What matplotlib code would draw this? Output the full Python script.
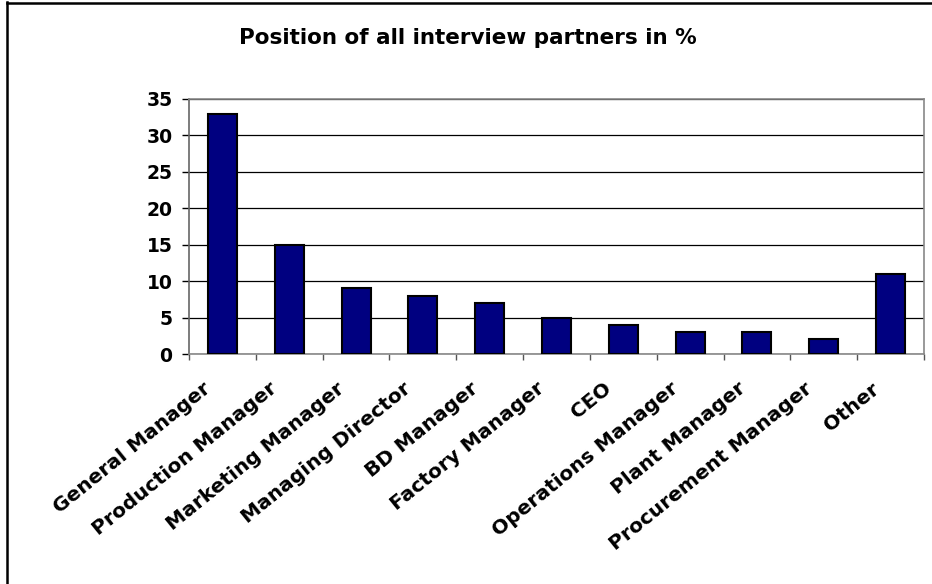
import matplotlib.pyplot as plt
from matplotlib.lines import Line2D
from matplotlib.transforms import ScaledTranslation

positions = ["General Manager", "Production Manager", "Marketing Manager",
             "Managing Director", "BD Manager", "Factory Manager", "CEO",
             "Operations Manager", "Plant Manager", "Procurement Manager",
             "Other"]
shares = [33, 15, 9, 8, 7, 5, 4, 3, 3, 2, 11]
yticks = [0, 5, 10, 15, 20, 25, 30, 35]

plt.rcParams['font.family'] = ['DejaVu Sans']
plt.rcParams['font.weight'] = 'bold'

fig = plt.figure(figsize=(9.32, 5.84), dpi=100)
ax = fig.add_axes([0.2028, 0.3938, 0.9914 - 0.2028, 0.8305 - 0.3938])

x = range(len(positions))
ax.bar(x, shares, width=0.435, color='#000080', edgecolor='black',
       linewidth=1.5, zorder=3)

ax.set_xlim(-0.5, len(positions) - 0.5)
ax.set_ylim(0, 35)
ax.set_yticks(yticks)
ax.set_yticklabels([str(v) for v in yticks], fontsize=13.5, fontweight='bold')

# ticks sit on the category boundaries
ax.set_xticks([i - 0.5 for i in range(len(positions) + 1)])
ax.set_xticklabels([])
ax.tick_params(axis='x', length=4, width=1, color='#555555')
ax.tick_params(axis='y', length=5, width=1, color='black', pad=7)

# category names, slanted, ending just left of each bar centre
shift = ScaledTranslation(-20 / 100, -25 / 100, fig.dpi_scale_trans)
for i, name in enumerate(positions):
    ax.text(i, 0, name, transform=ax.get_xaxis_transform() + shift,
            rotation=39, rotation_mode='anchor', ha='right', va='top',
            fontsize=14.5, fontweight='bold')

ax.grid(axis='y', color='black', linewidth=0.9, zorder=0)
for side in ['top', 'right', 'bottom']:
    ax.spines[side].set_color('#888888')
    ax.spines[side].set_linewidth(1.2)
ax.spines['left'].set_color('#666666')
ax.spines['left'].set_linewidth(1.2)

fig.text(0.502, 0.935, "Position of all interview partners in %",
         ha='center', va='center', fontsize=15.5, fontweight='bold')

# chart frame (left and top edges)
fig.add_artist(Line2D([7 / 932, 7 / 932], [0, 1 - 2 / 584],
                      color='black', linewidth=1.8,
                      transform=fig.transFigure))
fig.add_artist(Line2D([7 / 932, 1], [1 - 2.5 / 584, 1 - 2.5 / 584],
                      color='black', linewidth=1.8,
                      transform=fig.transFigure))

fig.savefig('out.png', dpi=100)
